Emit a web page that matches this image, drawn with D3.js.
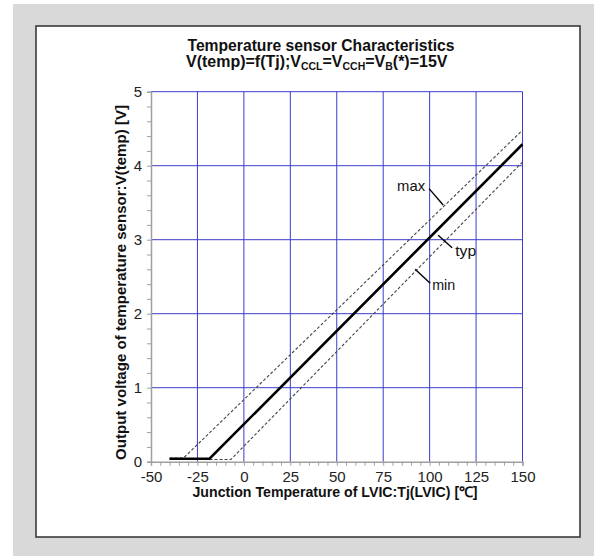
<!DOCTYPE html>
<html><head><meta charset="utf-8">
<script src="https://cdn.jsdelivr.net/npm/d3@7"></script>
<style>
html,body{margin:0;padding:0;background:#fff;}
svg{display:block;font-family:"Liberation Sans",Arial,sans-serif;}
</style></head>
<body>
<svg id="c" width="594" height="556"></svg>
<script>
// ---- data ----
const xTicks = [-50, -25, 0, 25, 50, 75, 100, 125, 150];
const yTicks = [0, 1, 2, 3, 4, 5];
const typT = [-40, -18.5, 150];
const typV = [0.04, 0.04, 4.29];
const maxT = [-40, -32.5, 150];
const maxV = [0.05, 0.05, 4.48];
const minT = [-40, -7, 150];
const minV = [0.03, 0.03, 4.05];
const labelNames = ["max", "typ", "min"];

const svg = d3.select("#c");
// background
svg.append("rect").attr("x",13).attr("y",4).attr("width",581).attr("height",552).attr("fill","#d9d9d9");
svg.append("rect").attr("x",36).attr("y",26).attr("width",544).attr("height",511)
  .attr("fill","#fff").attr("stroke","#3a3a3a").attr("stroke-width",1.6);

const x = d3.scaleLinear().domain([-50,150]).range([151,522.5]);
const y = d3.scaleLinear().domain([0,5]).range([461.7,91.7]);

// grid
const grid = svg.append("g");
grid.selectAll(".vg").data(xTicks.slice(1)).enter().append("line")
  .attr("x1",d=>x(d)).attr("x2",d=>x(d)).attr("y1",y(0)).attr("y2",y(5))
  .attr("stroke","#3c3ccc").attr("stroke-width",1);
grid.selectAll(".hg").data(yTicks.slice(1)).enter().append("line")
  .attr("x1",x(-50)).attr("x2",x(150)).attr("y1",d=>y(d)).attr("y2",d=>y(d))
  .attr("stroke","#3c3ccc").attr("stroke-width",1);

// axes
const axisColor = "#a0a0a0";
const xMinor = d3.range(-50,151,5);
const yMinor = d3.range(0,5.01,0.2);
const xa = svg.append("g").attr("transform",`translate(0,${y(0)})`)
  .call(d3.axisBottom(x).tickValues(xMinor).tickSize(4).tickFormat(""));
xa.select(".domain").attr("stroke",axisColor).attr("stroke-width",1.5);
xa.selectAll(".tick line").attr("stroke",axisColor);
const xl = svg.append("g").attr("transform",`translate(0,${y(0)})`)
  .call(d3.axisBottom(x).tickValues(xTicks).tickSize(0).tickPadding(10).tickFormat(d=>String(d)));
xl.select(".domain").remove();
xl.selectAll("text").attr("font-size",15).attr("fill","#222").attr("font-family","Liberation Sans, Arial, sans-serif");

const ya = svg.append("g").attr("transform",`translate(${x(-50)},0)`)
  .call(d3.axisLeft(y).tickValues(yMinor).tickSize(4).tickFormat(""));
ya.select(".domain").attr("stroke",axisColor).attr("stroke-width",1.5);
ya.selectAll(".tick line").attr("stroke",axisColor);
const yl = svg.append("g").attr("transform",`translate(${x(-50)},0)`)
  .call(d3.axisLeft(y).tickValues(yTicks).tickSize(0).tickPadding(9).tickFormat(d=>String(d)));
yl.select(".domain").remove();
yl.selectAll("text").attr("font-size",15).attr("fill","#222").attr("font-family","Liberation Sans, Arial, sans-serif");

// curves
const line = d3.line().x(d=>x(d[0])).y(d=>y(d[1]));
const zip = (a,b)=>a.map((v,i)=>[v,b[i]]);
svg.append("path").datum(zip(maxT,maxV)).attr("d",line).attr("fill","none")
  .attr("stroke","#444").attr("stroke-width",1.1).attr("stroke-dasharray","3,2");
svg.append("path").datum(zip(minT,minV)).attr("d",line).attr("fill","none")
  .attr("stroke","#444").attr("stroke-width",1.1).attr("stroke-dasharray","3,2");
svg.append("path").datum(zip(typT,typV)).attr("d",line).attr("fill","none")
  .attr("stroke","#000").attr("stroke-width",2.6);

// annotations (data coords)
const ann = [
  {t:82.5, v:3.73, l:[[99.7,3.69],[107.3,3.47]]},
  {t:113.8, v:2.85, l:[[104.6,3.06],[112.1,2.89]]},
  {t:101.4, v:2.39, l:[[92.2,2.60],[100.3,2.41]]}
];
ann.forEach((a,i)=>{
  svg.append("line").attr("x1",x(a.l[0][0])).attr("y1",y(a.l[0][1]))
    .attr("x2",x(a.l[1][0])).attr("y2",y(a.l[1][1]))
    .attr("stroke","#000").attr("stroke-width",1.4);
  svg.append("text").attr("x",x(a.t)).attr("y",y(a.v)).attr("dy","0.35em")
    .attr("font-size",15).attr("fill","#111")
    .attr("textLength",i===1?21:(i===0?28:23)).attr("lengthAdjust","spacingAndGlyphs")
    .text(labelNames[i]);
});

// titles
svg.append("text").attr("x",321).attr("y",50.7).attr("text-anchor","middle")
  .attr("font-size",16).attr("font-weight","bold").attr("fill","#111")
  .attr("textLength",267).attr("lengthAdjust","spacingAndGlyphs")
  .text("Temperature sensor Characteristics");
const t2 = svg.append("text").attr("x",186).attr("y",66.7)
  .attr("font-size",16).attr("font-weight","bold").attr("fill","#111");
const parts = [["V(temp)=f(Tj);V",0],["CCL",1],["=V",0],["CCH",1],["=V",0],["B",1],["(*)=15V",0]];
let prevSub = 0;
parts.forEach(p=>{
  const dy = p[1] && !prevSub ? 3 : (!p[1] && prevSub ? -3 : 0);
  t2.append("tspan").attr("dy",dy).attr("font-size",p[1]?10.5:16).text(p[0]);
  prevSub = p[1];
});
// compress line 2 horizontally to the reference width
const bb = t2.node().getBBox();
t2.attr("transform",`translate(${186},0) scale(${262/bb.width},1) translate(${-186},0)`);

// axis titles
svg.append("text").attr("x",335).attr("y",497).attr("text-anchor","middle")
  .attr("font-size",14.5).attr("font-weight","bold").attr("fill","#111")
  .attr("textLength",285).attr("lengthAdjust","spacingAndGlyphs")
  .text("Junction Temperature of LVIC:Tj(LVIC)  [℃]");
svg.append("text").attr("transform","translate(126,282.5) rotate(-90)").attr("text-anchor","middle")
  .attr("font-size",14.5).attr("font-weight","bold").attr("fill","#111")
  .attr("textLength",355).attr("lengthAdjust","spacingAndGlyphs")
  .text("Output voltage of temperature sensor:V(temp) [V]");
</script>
</body></html>
